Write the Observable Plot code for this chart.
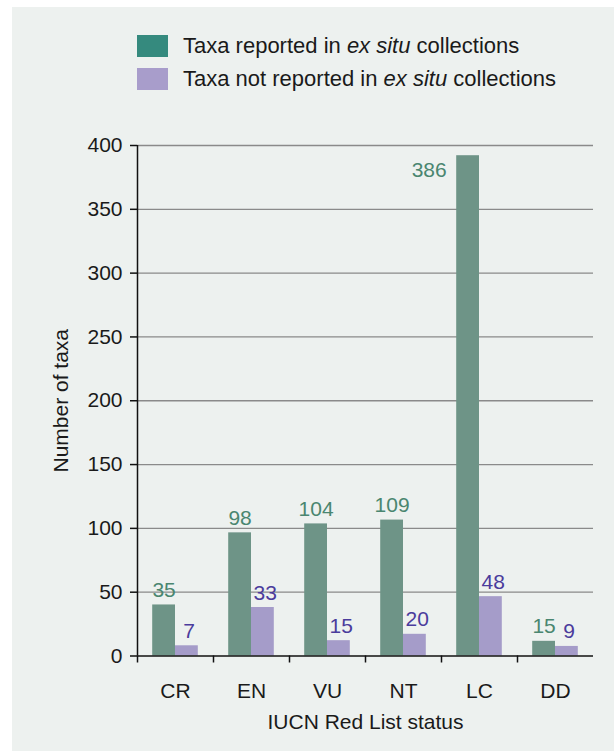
<!DOCTYPE html>
<html>
<head>
<meta charset="utf-8">
<script src="https://cdn.jsdelivr.net/npm/d3@7"></script>
<script src="https://cdn.jsdelivr.net/npm/@observablehq/plot@0.6"></script>
<style>
  html, body { margin: 0; padding: 0; background: #ffffff; }
  body { width: 614px; height: 751px; position: relative; overflow: hidden;
         font-family: "Liberation Sans", Arial, Helvetica, sans-serif; }
  #panel { position: absolute; left: 12px; top: 7px; width: 602px; height: 744px; background: #edf1ef; }
  #legend { position: absolute; left: 137px; top: 35px; color: #1a1a1a; font-size: 22px; }
  .row { display: flex; align-items: center; height: 22px; margin-bottom: 11px; }
  .sw { width: 31px; height: 22px; margin-right: 15px; }
  #chart { position: absolute; left: 0; top: 110px; }
</style>
</head>
<body>
<div id="panel"></div>
<div id="legend"></div>
<div id="chart"></div>
<script>
const categories = ["CR", "EN", "VU", "NT", "LC", "DD"];
// bar heights as drawn in the picture
const reportedBars = [40, 96.5, 103.5, 106.5, 392, 11.5];
const notReportedBars = [8, 38, 12, 17, 46.5, 7.5];
// printed value labels
const reportedLabels = [35, 98, 104, 109, 386, 15];
const notReportedLabels = [7, 33, 15, 20, 48, 9];
const yTicks = [0, 50, 100, 150, 200, 250, 300, 350, 400];
const seriesNames = ["Taxa reported in <i>ex situ</i> collections", "Taxa not reported in <i>ex situ</i> collections"];

const barColors = ["#6e9487", "#a59cc9"];
const swatchColors = ["#358a7e", "#a89dcb"];
const labelColors = ["#4a8670", "#4b3c9c"];

// legend
const legend = document.getElementById("legend");
seriesNames.forEach((name, k) => {
  const row = document.createElement("div");
  row.className = "row";
  row.innerHTML = `<div class="sw" style="background:${swatchColors[k]}"></div><div>${name}</div>`;
  legend.appendChild(row);
});

const rows = [];
categories.forEach((c, i) => {
  rows.push({cat: c, i, s: 0, value: reportedBars[i], label: reportedLabels[i]});
  rows.push({cat: c, i, s: 1, value: notReportedBars[i], label: notReportedLabels[i]});
});
const start = [0.2, 0.5], bw = 0.3;
const fitsAbove = d => d.value < 350;

const plot = Plot.plot({
  width: 614,
  height: 641,
  marginLeft: 137,
  marginRight: 21,
  marginTop: 35,
  marginBottom: 95.5,
  style: {fontFamily: '"Liberation Sans", Arial, Helvetica, sans-serif', fontSize: "21px", color: "#1a1a1a", background: "transparent"},
  x: {domain: [0, categories.length]},
  y: {domain: [0, 400]},
  marks: [
    Plot.ruleY(yTicks.filter(t => t > 0), {stroke: "#8a8a8a", strokeWidth: 1.3}),
    Plot.rectY(rows, {
      x1: d => d.i + start[d.s],
      x2: d => d.i + start[d.s] + bw,
      y1: 0, y2: "value",
      fill: d => barColors[d.s]
    }),
    Plot.ruleY([0], {stroke: "#111", strokeWidth: 1.5}),
    Plot.ruleX([0], {y1: 0, y2: 400, stroke: "#111", strokeWidth: 1.5}),
    Plot.axisY({ticks: yTicks, tickSize: 7, tickPadding: 8, stroke: "#111", strokeWidth: 1.5,
      label: "Number of taxa", labelAnchor: "center", labelOffset: 84, labelArrow: false}),
    Plot.axisX({ticks: d3.range(categories.length), tickSize: 7, tickFormat: () => "", stroke: "#111", strokeWidth: 1.5, label: null}),
    Plot.axisX({ticks: d3.range(categories.length).map(i => i + 0.5), tickSize: 0, tickPadding: 27,
      tickFormat: t => categories[Math.floor(t)],
      label: "IUCN Red List status", labelAnchor: "center", labelOffset: 73, labelArrow: false}),
    Plot.text(rows.filter(fitsAbove), {
      x: d => d.i + start[d.s] + bw / 2 + (d.s ? 0.03 : 0),
      y: "value", text: d => String(d.label),
      dy: -8, lineAnchor: "bottom",
      fill: d => labelColors[d.s], fontSize: 21
    }),
    Plot.text(rows.filter(d => !fitsAbove(d)), {
      x: d => d.i + start[d.s],
      y: "value", text: d => String(d.label),
      dx: -10, dy: 6, lineAnchor: "top", textAnchor: "end",
      fill: d => labelColors[d.s], fontSize: 21
    })
  ]
});
document.getElementById("chart").appendChild(plot);
</script>
</body>
</html>
